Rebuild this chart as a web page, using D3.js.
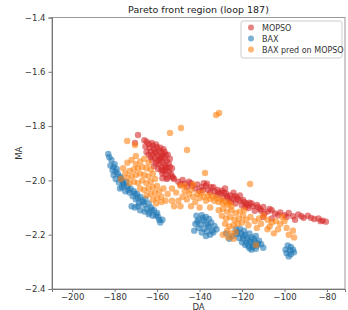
<!DOCTYPE html>
<meta charset="utf-8">
<style>
body { margin: 0; background: #fff; }
text { font-family: "DejaVu Sans", sans-serif; }
</style>
<svg id="mysvg" width="348" height="310"></svg>
<script src="https://cdn.jsdelivr.net/npm/d3@7"></script>
<script>

// [DA, MA] pairs
var mopso = [
	[-169,-1.833],[-170.4,-1.862],[-164.9,-1.857],[-166,-1.852],[-164,-1.866],[-162,-1.872],
	[-160,-1.878],[-161.5,-1.885],[-163,-1.893],[-159,-1.890],[-160.5,-1.900],[-158,-1.897],
	[-162,-1.905],[-159.5,-1.910],[-157.5,-1.908],[-161,-1.918],[-158.5,-1.920],[-156.5,-1.918],
	[-160,-1.928],[-157.5,-1.932],[-155.5,-1.928],[-159,-1.940],[-156.5,-1.942],[-154.5,-1.938],
	[-158,-1.952],[-155.5,-1.955],[-157,-1.965],[-154.5,-1.968],[-156,-1.978],[-153.5,-1.975],
	[-155,-1.990],[-163.5,-1.880],[-165,-1.895],[-157,-1.885],[-161,-1.895],[-163,-1.915],
	[-155,-1.905],[-153,-1.955],[-152.5,-1.990],[-158,-1.915],[-159,-1.925],[-156,-1.950],
	[-162.5,-1.862],[-160.5,-1.868],[-158.5,-1.880],[-156.5,-1.895],[-164,-1.905],[-162.5,-1.925],
	[-160.5,-1.938],[-158,-1.962],[-156,-1.960],[-154,-1.950],[-157.5,-1.975],[-155.5,-1.995],
	[-153,-1.985],[-161.5,-1.948],[-159.5,-1.958],[-157.5,-1.992],[-165.5,-1.875],[-156,-1.905],
	[-154,-1.920],
	[-152,-1.995],[-150,-2.005],[-148,-1.998],[-147,-2.012],[-145,-2.005],[-143.5,-2.020],
	[-146,-2.025],[-141,-2.015],[-139,-2.025],[-137,-2.020],[-136,-2.035],[-134.5,-2.025],
	[-133,-2.040],[-135,-2.045],[-131.5,-2.035],[-130,-2.048],[-132,-2.055],[-128.5,-2.045],
	[-127,-2.058],[-129,-2.065],[-125.5,-2.055],[-124,-2.068],[-126,-2.075],[-122.5,-2.062],
	[-121,-2.075],[-123,-2.085],[-119.5,-2.072],[-118,-2.085],[-120,-2.092],[-116.5,-2.082],
	[-115,-2.095],[-117,-2.102],[-113,-2.090],[-111.5,-2.105],[-114,-2.112],[-110,-2.098],
	[-108,-2.115],[-109.5,-2.122],[-106,-2.110],[-104.5,-2.122],[-102,-2.118],[-100,-2.128],
	[-98,-2.120],[-96,-2.132],[-93.5,-2.125],[-91,-2.138],[-89,-2.130],[-86,-2.142],
	[-84,-2.140],[-82,-2.148],[-80.5,-2.152],[-110,-2.135],[-106,-2.140],[-95,-2.145],
	[-140,-2.040],[-138,-2.010],[-128,-2.030],[-124,-2.045],[-121,-2.055],
	[-149,-2.015],[-144,-2.010],[-142,-2.030],[-138.5,-2.035],[-136.5,-2.012],[-133.5,-2.025],
	[-131,-2.045],[-129.5,-2.038],[-127.5,-2.048],[-126.5,-2.065],[-123.5,-2.058],[-122,-2.070],
	[-119,-2.080],[-117.5,-2.092],[-115.5,-2.085],[-112.5,-2.098],[-111,-2.112],[-107,-2.105],
	[-103,-2.128],[-99,-2.135],[-92,-2.132],[-87.5,-2.138],[-83,-2.150],[-118.5,-2.098],
	[-125,-2.080]
];

var bax = [
	[-183,-1.903],[-181.5,-1.925],[-182,-1.945],[-180,-1.940],[-181,-1.962],[-179,-1.958],
	[-180.5,-1.980],[-178.5,-1.975],[-179.5,-1.995],[-177,-1.992],[-178,-2.008],[-176,-2.010],
	[-174.5,-2.005],[-176.5,-2.025],[-174,-2.022],[-172.5,-2.030],[-173,-2.045],[-171,-2.040],
	[-169.5,-2.050],[-171.5,-2.058],[-168,-2.060],[-170,-2.070],[-167,-2.075],[-165.5,-2.068],
	[-168.5,-2.085],[-166,-2.090],[-164,-2.085],[-163,-2.100],[-165,-2.105],[-161.5,-2.110],
	[-163.5,-2.118],[-160,-2.120],[-162,-2.130],[-159.5,-2.135],[-157.5,-2.145],[-158.5,-2.155],
	[-170.5,-2.100],[-172,-2.095],[-168,-2.110],[-166,-2.115],[-164,-2.125],[-175,-2.040],
	[-177.5,-2.030],
	[-182.5,-1.915],[-180.5,-1.950],[-179.5,-1.968],[-177.5,-1.985],[-176.5,-2.000],[-175.5,-2.018],
	[-173.5,-2.035],[-170.5,-2.048],[-169,-2.065],[-166.5,-2.080],[-162.5,-2.108],[-160.5,-2.128],
	[-169,-2.095],[-159,-2.145],
	[-141.5,-2.130],[-139,-2.128],[-137,-2.135],[-140.5,-2.145],[-138,-2.148],[-135.5,-2.142],
	[-142,-2.160],[-139.5,-2.162],[-137,-2.158],[-134.5,-2.155],[-140.5,-2.175],[-138,-2.178],
	[-135.5,-2.172],[-133,-2.168],[-139,-2.192],[-136.5,-2.188],[-134,-2.185],[-132,-2.180],
	[-137,-2.205],[-135,-2.200],[-142.5,-2.185],
	[-138.5,-2.138],[-136,-2.165],[-141,-2.152],[-133.5,-2.192],
	[-123,-2.180],[-121,-2.178],[-119,-2.185],[-122.5,-2.198],[-120.5,-2.195],[-118.5,-2.200],
	[-116.5,-2.195],[-121.5,-2.212],[-119.5,-2.215],[-117.5,-2.212],[-115.5,-2.210],[-113.5,-2.205],
	[-120,-2.228],[-118,-2.230],[-116,-2.228],[-114,-2.225],[-112,-2.222],[-117,-2.242],
	[-115,-2.245],[-113,-2.240],[-111,-2.235],[-115.5,-2.255],[-113.5,-2.252],[-110,-2.248],
	[-124.5,-2.205],[-126,-2.215],[-127.5,-2.195],
	[-122,-2.188],[-119.5,-2.205],[-117,-2.220],[-115,-2.235],[-112.5,-2.232],[-114.5,-2.215],
	[-118.5,-2.238],[-116.5,-2.250],
	[-98.5,-2.240],[-97,-2.245],[-99.5,-2.255],[-97.5,-2.258],[-96,-2.255],[-99,-2.268],
	[-97,-2.272],[-95.5,-2.265],[-98,-2.280]
];

var baxPred = [
	[-174.1,-1.855],[-170.4,-1.870],[-153.9,-1.825],[-132.2,-1.759],[-130.8,-1.752],[-148.7,-1.807],
	[-145.9,-1.888],[-137.4,-1.973],[-116.2,-2.013],[-113.4,-2.238],
	[-176,-1.955],[-174,-1.935],[-172,-1.925],[-170,-1.940],[-168,-1.930],[-166,-1.920],
	[-164,-1.935],[-175,-1.975],[-173,-1.965],[-171,-1.960],[-169,-1.955],[-167,-1.950],
	[-165,-1.955],[-163,-1.960],[-177,-1.995],[-174,-1.990],[-172,-1.985],[-170,-1.980],
	[-168,-1.975],[-166,-1.980],[-164,-1.985],[-162,-1.975],[-171,-2.005],[-169,-2.010],
	[-167,-2.000],[-165,-2.010],[-163,-2.005],[-161,-1.995],[-168,-2.030],[-166,-2.035],
	[-164,-2.030],[-162,-2.025],[-160,-2.020],[-165,-2.055],[-163,-2.050],[-161,-2.045],
	[-159,-2.040],[-162,-2.070],[-160,-2.065],[-158,-2.060],[-160.5,-2.085],[-158,-2.080],
	[-156,-2.075],[-170,-1.910],[-173,-2.010],[-155,-2.050],[-157,-2.030],
	[-153,-2.030],[-151,-2.045],[-149,-2.020],[-148,-2.060],[-150,-2.075],[-147,-2.040],
	[-145,-2.050],[-146,-2.070],[-144,-2.035],[-143,-2.060],[-141,-2.050],[-142,-2.080],
	[-140,-2.065],[-139,-2.045],[-138,-2.060],[-137,-2.075],[-136,-2.055],[-135,-2.068],
	[-134,-2.058],[-133,-2.075],[-132,-2.065],[-131,-2.080],[-130,-2.070],[-129,-2.085],
	[-128,-2.078],[-127,-2.090],[-126,-2.085],[-125,-2.095],[-153,-2.075],[-152,-2.095],
	[-149,-2.095],[-144,-2.095],[-140,-2.100],[-135,-2.100],[-147,-2.020],[-143,-2.015],
	[-131,-2.110],[-129,-2.105],[-127,-2.115],[-125,-2.110],[-123,-2.120],[-121,-2.115],
	[-129.5,-2.130],[-127.5,-2.140],[-125.5,-2.135],[-123.5,-2.145],[-121.5,-2.140],[-119.5,-2.130],
	[-128,-2.160],[-126,-2.170],[-124,-2.165],[-122,-2.160],[-120,-2.155],[-127,-2.185],
	[-125,-2.195],[-123,-2.190],[-129,-2.200],[-126.5,-2.210],[-124,-2.215],[-118,-2.145],
	[-116,-2.135],[-114,-2.150],[-112,-2.140],[-110,-2.130],[-108,-2.145],[-106,-2.155],
	[-104,-2.150],[-102,-2.160],[-100,-2.150],[-111,-2.160],[-107,-2.170],[-103,-2.180],
	[-99,-2.175],[-96,-2.185],[-98,-2.200],[-95.5,-2.210],[-105,-2.195],[-108,-2.180],
	[-113,-2.175],[-117,-2.165],[-101,-2.135],[-119,-2.110]
];

var xTicks = [-200,-180,-160,-140,-120,-100,-80];
var yTicks = [-1.4,-1.6,-1.8,-2.0,-2.2,-2.4];

var seriesNames = ["MOPSO","BAX","BAX pred on MOPSO"];
var seriesColors = ["#d62728","#1f77b4","#ff7f0e"];
var seriesData = [mopso, bax, baxPred];

var svg = d3.select("#mysvg");
var plotL = 52, plotR = 345, plotT = 17.5, plotB = 289;

var x = d3.scaleLinear().domain([-209.5,-71.5]).range([plotL, plotR]);
var y = d3.scaleLinear().domain([-2.4,-1.4]).range([plotB, plotT]);

var fmt = function(d){ return d3.format(".1f")(d).replace("-", "\u2212"); };
var fmtX = function(d){ return String(d).replace("-", "\u2212"); };

// points
seriesData.forEach(function(data, k){
	svg.append("g").selectAll("circle")
		.data(data)
		.enter().append("circle")
		.attr("cx", function(d){ return x(d[0]); })
		.attr("cy", function(d){ return y(d[1]); })
		.attr("r", 3.2)
		.attr("fill", seriesColors[k])
		.attr("fill-opacity", 0.58);
});

// frame
svg.append("rect")
	.attr("x", plotL).attr("y", plotT)
	.attr("width", plotR-plotL).attr("height", plotB-plotT)
	.attr("fill", "none")
	.attr("stroke", "#999")
	.attr("stroke-width", 1);

var xAxis = svg.append("g")
	.attr("transform", "translate(0," + plotB + ")")
	.call(d3.axisBottom(x).tickValues(xTicks).tickFormat(fmtX).tickSize(3).tickPadding(1.5));
var yAxis = svg.append("g")
	.attr("transform", "translate(" + plotL + ",0)")
	.call(d3.axisLeft(y).tickValues(yTicks).tickFormat(fmt).tickSize(3.5).tickPadding(3));

[xAxis, yAxis].forEach(function(a){
	a.select(".domain").attr("stroke", "#777");
	a.selectAll(".tick line").attr("stroke", "#777");
	a.selectAll(".tick text")
		.attr("fill", "#333")
		.style("font-size", "8.5px")
		.style("font-family", "DejaVu Sans, sans-serif");
});

// title and axis labels
svg.append("text")
	.attr("x", (plotL+plotR)/2).attr("y", 13)
	.attr("text-anchor", "middle")
	.attr("fill", "#222")
	.style("font-size", "9.5px")
	.text("Pareto front region (loop 187)");

svg.append("text")
	.attr("x", (plotL+plotR)/2).attr("y", 309.5)
	.attr("text-anchor", "middle")
	.attr("fill", "#333")
	.style("font-size", "8.5px")
	.text("DA");

svg.append("text")
	.attr("transform", "translate(22," + (plotT+plotB)/2 + ") rotate(-90)")
	.attr("text-anchor", "middle")
	.attr("fill", "#333")
	.style("font-size", "8.5px")
	.text("MA");

// legend
var lg = svg.append("g");
lg.append("rect")
	.attr("x", 241).attr("y", 21)
	.attr("width", 101).attr("height", 37)
	.attr("rx", 2)
	.attr("fill", "#fff").attr("fill-opacity", 0.8)
	.attr("stroke", "#ccc");

var rows = lg.selectAll(".row")
	.data(seriesNames)
	.enter().append("g")
	.attr("transform", function(d, i){ return "translate(0," + (27.5 + i*11) + ")"; });
rows.append("circle")
	.attr("cx", 251).attr("cy", 0).attr("r", 3)
	.attr("fill", function(d, i){ return seriesColors[i]; })
	.attr("fill-opacity", 0.58);
rows.append("text")
	.attr("x", 262).attr("y", 3)
	.attr("fill", "#333")
	.style("font-size", "8px")
	.text(function(d){ return d; });

</script>
